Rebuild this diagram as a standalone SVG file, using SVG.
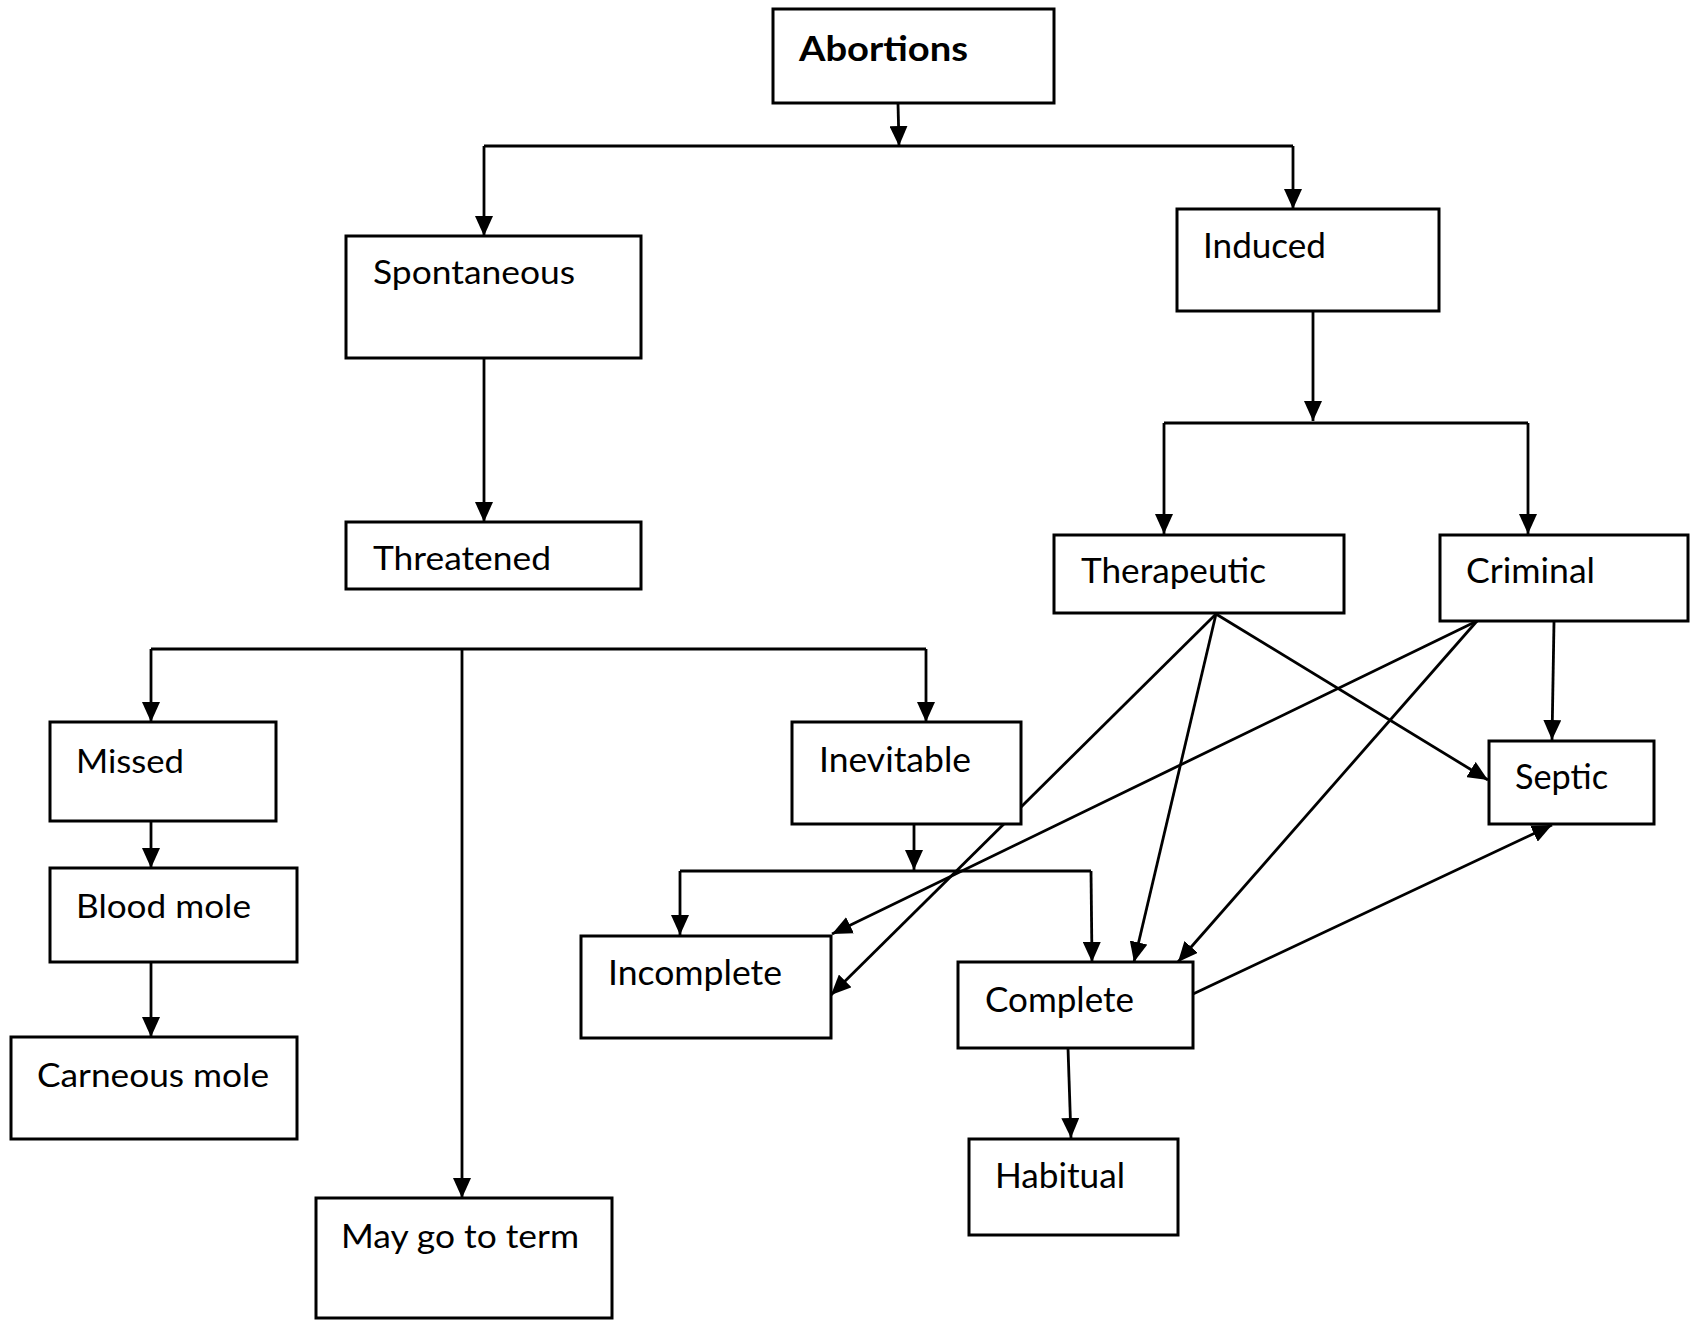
<svg xmlns="http://www.w3.org/2000/svg" width="1695" height="1329" viewBox="0 0 1695 1329">
<defs>
<marker id="ah" viewBox="0 0 20 18" refX="20" refY="9" markerWidth="20" markerHeight="18" markerUnits="userSpaceOnUse" orient="auto">
<path d="M0,0 L20,9 L0,18 z" fill="#000"/>
</marker>
<style>
.box{fill:#fff;stroke:#000;stroke-width:3}
.t{font-family:Lato,"Liberation Sans",sans-serif;font-size:33px;fill:#000}
.c{font-family:Lato,"Liberation Sans",sans-serif;font-size:34px;fill:#000}
.b{font-weight:bold}
.e{fill:none;stroke:#000;stroke-width:2.8}
.a{fill:none;stroke:#000;stroke-width:2.8;marker-end:url(#ah)}
</style>
</defs>
<rect width="1695" height="1329" fill="#fff"/>
<g id="connectors">
<path class="a" d="M898,103 L899,146"/>
<path class="e" d="M484,146 L1293,146"/>
<path class="a" d="M484,146 L484,236"/>
<path class="a" d="M1293,146 L1293,209"/>
<path class="a" d="M484,358 L484,522"/>
<path class="a" d="M1313,311 L1313,421"/>
<path class="e" d="M1164,423 L1528,423"/>
<path class="a" d="M1164,423 L1164,534"/>
<path class="a" d="M1528,423 L1528,534"/>
<path class="e" d="M151,649 L926,649"/>
<path class="a" d="M151,649 L151,722"/>
<path class="a" d="M462,649 L462,1198"/>
<path class="a" d="M926,649 L926,722"/>
<path class="a" d="M151,821 L151,868"/>
<path class="a" d="M151,962 L151,1037"/>
<path class="a" d="M914,824 L914,870"/>
<path class="e" d="M680,871 L1091,871"/>
<path class="a" d="M680,871 L680,935"/>
<path class="a" d="M1091,871 L1092,962"/>
<path class="a" d="M1216,614 L831,995"/>
<path class="a" d="M1216,614 L1134,962"/>
<path class="a" d="M1216,614 L1488,780"/>
<path class="a" d="M1477,621 L832,934"/>
<path class="a" d="M1477,621 L1178,962"/>
<path class="a" d="M1554,622 L1552,740"/>
<path class="a" d="M1193,994 L1552,825"/>
<path class="a" d="M1068,1048 L1071,1138"/>
</g>
<g id="n-abortions"><rect class="box" x="773" y="9" width="281" height="94"/><text class="c b" x="799" y="61" textLength="169" lengthAdjust="spacingAndGlyphs">Abortions</text></g>
<g id="n-spontaneous"><rect class="box" x="346" y="236" width="295" height="122"/><text class="t" x="373" y="284" textLength="202" lengthAdjust="spacingAndGlyphs">Spontaneous</text></g>
<g id="n-induced"><rect class="box" x="1177" y="209" width="262" height="102"/><text class="c" x="1203" y="258" textLength="123" lengthAdjust="spacingAndGlyphs">Induced</text></g>
<g id="n-threatened"><rect class="box" x="346" y="522" width="295" height="67"/><text class="t" x="373" y="570" textLength="178" lengthAdjust="spacingAndGlyphs">Threatened</text></g>
<g id="n-therapeutic"><rect class="box" x="1054" y="535" width="290" height="78"/><text class="c" x="1081" y="583" textLength="185" lengthAdjust="spacingAndGlyphs">Therapeutic</text></g>
<g id="n-criminal"><rect class="box" x="1440" y="535" width="248" height="86"/><text class="c" x="1466" y="583" textLength="129" lengthAdjust="spacingAndGlyphs">Criminal</text></g>
<g id="n-missed"><rect class="box" x="50" y="722" width="226" height="99"/><text class="t" x="76" y="773" textLength="108" lengthAdjust="spacingAndGlyphs">Missed</text></g>
<g id="n-inevitable"><rect class="box" x="792" y="722" width="229" height="102"/><text class="c" x="819" y="772" textLength="152" lengthAdjust="spacingAndGlyphs">Inevitable</text></g>
<g id="n-septic"><rect class="box" x="1489" y="741" width="165" height="83"/><text class="c" x="1515" y="789" textLength="93" lengthAdjust="spacingAndGlyphs">Septic</text></g>
<g id="n-bloodmole"><rect class="box" x="50" y="868" width="247" height="94"/><text class="t" x="76" y="918" textLength="175" lengthAdjust="spacingAndGlyphs">Blood mole</text></g>
<g id="n-incomplete"><rect class="box" x="581" y="936" width="250" height="102"/><text class="c" x="608" y="985" textLength="174" lengthAdjust="spacingAndGlyphs">Incomplete</text></g>
<g id="n-complete"><rect class="box" x="958" y="962" width="235" height="86"/><text class="c" x="985" y="1012" textLength="149" lengthAdjust="spacingAndGlyphs">Complete</text></g>
<g id="n-carneousmole"><rect class="box" x="11" y="1037" width="286" height="102"/><text class="t" x="37" y="1087" textLength="232" lengthAdjust="spacingAndGlyphs">Carneous mole</text></g>
<g id="n-habitual"><rect class="box" x="969" y="1139" width="209" height="96"/><text class="c" x="995" y="1188" textLength="130" lengthAdjust="spacingAndGlyphs">Habitual</text></g>
<g id="n-maygototerm"><rect class="box" x="316" y="1198" width="296" height="120"/><text class="t" x="341" y="1248" textLength="238" lengthAdjust="spacingAndGlyphs">May go to term</text></g>
</svg>
